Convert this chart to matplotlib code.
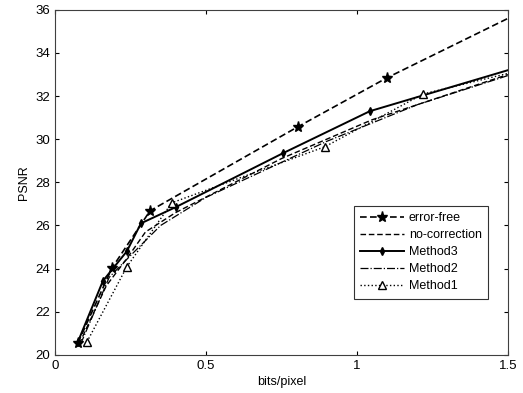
import matplotlib
matplotlib.use("Agg")
import matplotlib.pyplot as plt

plt.rcParams['font.family'] = ['Liberation Sans', 'DejaVu Sans']

# bits/pixel vs PSNR
ef_x = [0.076, 0.189, 0.315, 0.805, 1.10, 1.5]
ef_y = [20.55, 24.03, 26.68, 30.58, 32.85, 35.6]

nc_x = [0.08, 0.17, 0.24, 0.30, 0.40, 0.75, 1.05, 1.5]
nc_y = [20.5, 23.2, 24.5, 25.7, 26.6, 29.1, 30.9, 33.0]

m3_x = [0.076, 0.159, 0.238, 0.285, 0.40, 0.755, 1.043, 1.5]
m3_y = [20.6, 23.43, 24.8, 26.1, 26.85, 29.35, 31.3, 33.2]

m2_x = [0.085, 0.18, 0.25, 0.35, 0.5, 0.9, 1.2, 1.5]
m2_y = [20.5, 23.6, 24.6, 26.0, 27.3, 29.9, 31.6, 32.95]

m1_x = [0.106, 0.238, 0.387, 0.894, 1.22, 1.5]
m1_y = [20.6, 24.08, 27.05, 29.65, 32.1, 33.05]


def main():
    fig = plt.figure(figsize=(5.23, 3.93), dpi=100)
    ax = fig.add_axes([0.105, 0.097, 0.866, 0.878])

    # last points sit on the right edge, their markers are not shown there
    ax.plot(ef_x, ef_y, 'k--', marker='*', markersize=8, lw=1.2, dashes=(4, 2),
            markevery=list(range(len(ef_x) - 1)), label='error-free')
    ax.plot(nc_x, nc_y, 'k--', lw=1.0, dashes=(4, 2), label='no-correction')
    ax.plot(m3_x, m3_y, 'k-', marker='d', markersize=4, lw=1.4,
            markevery=list(range(len(m3_x) - 1)), label='Method3')
    ax.plot(m2_x, m2_y, 'k-.', lw=0.9, label='Method2')
    ax.plot(m1_x, m1_y, 'k:', marker='^', markersize=6, markerfacecolor='white',
            markevery=list(range(len(m1_x) - 1)), lw=1.0, label='Method1')

    ax.set_xlim(0, 1.5)
    ax.set_ylim(20, 36)
    ax.set_xticks([0, 0.5, 1, 1.5])
    ax.set_xticklabels(['0', '0.5', '1', '1.5'])
    ax.set_yticks(range(20, 37, 2))
    ax.tick_params(direction='in', labelsize=9.5, length=3, top=True, right=True,
                   labeltop=False, labelright=False)
    ax.set_xlabel('bits/pixel', fontsize=9, labelpad=3)
    ax.set_ylabel('PSNR', fontsize=9, labelpad=4)
    for s in ax.spines.values():
        s.set_color('#404040')

    leg = ax.legend(loc='lower right', bbox_to_anchor=(0.97, 0.145), fontsize=9,
                    frameon=True, fancybox=False, edgecolor='black',
                    handlelength=3.5, labelspacing=0.4, borderpad=0.5,
                    handletextpad=0.4)
    leg.get_frame().set_linewidth(0.8)

    fig.savefig('out.png', dpi=100)


if __name__ == "__main__":
    main()
